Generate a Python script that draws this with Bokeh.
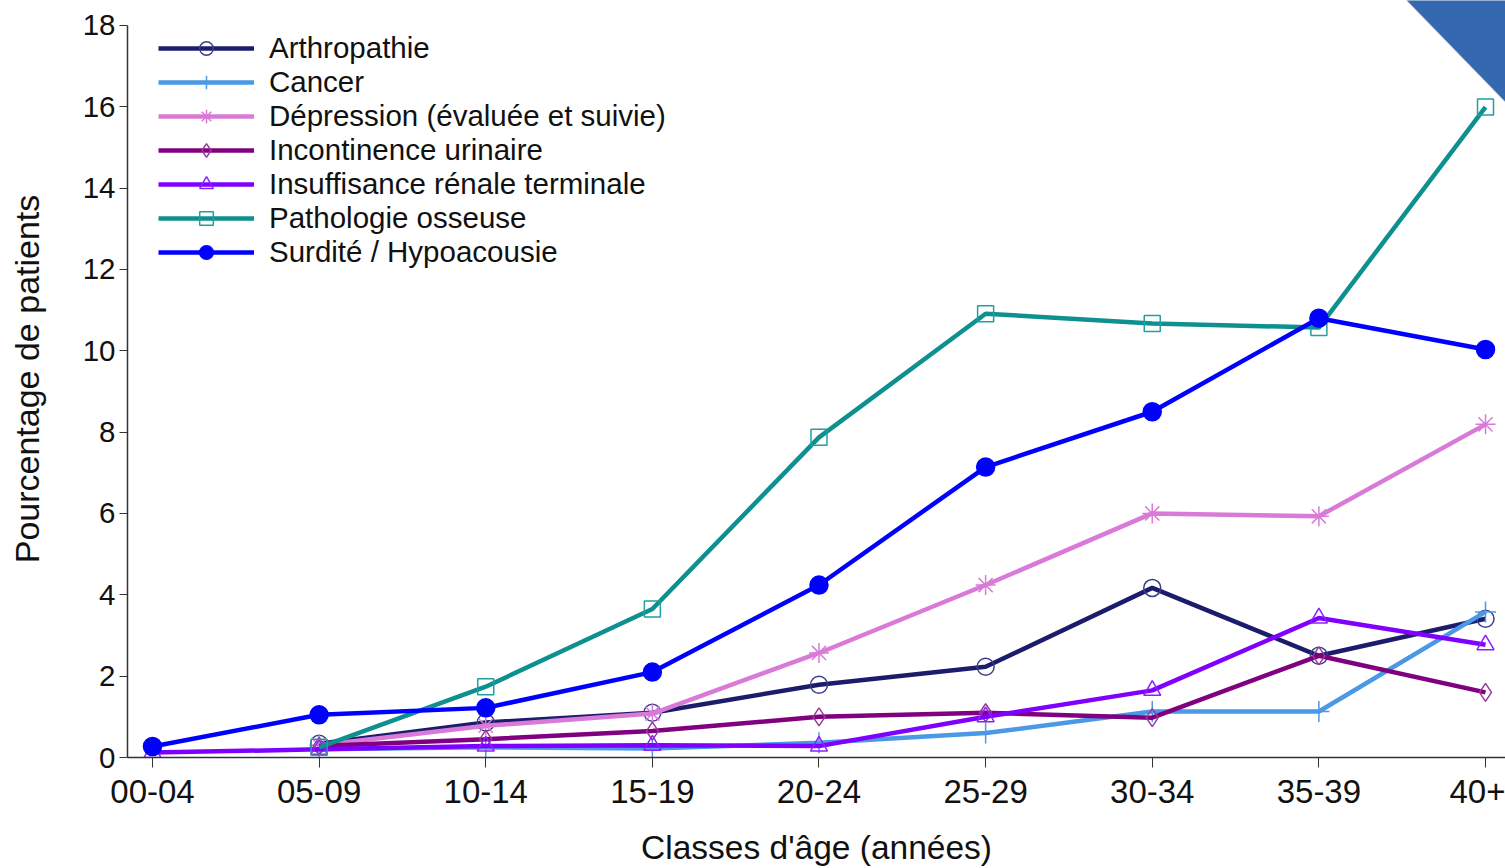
import math
from bokeh.plotting import figure
from bokeh.models import FixedTicker, Legend, LegendItem, Range1d
from bokeh.embed import file_html
from bokeh.resources import INLINE

nan = float("nan")

ages = ["00-04", "05-09", "10-14", "15-19", "20-24", "25-29", "30-34", "35-39", "40+"]
y_ticks = [0, 2, 4, 6, 8, 10, 12, 14, 16, 18]

arthropathie = [nan, 0.34, 0.86, 1.10, 1.79, 2.23, 4.17, 2.50, 3.41]
cancer = [nan, 0.20, 0.25, 0.22, 0.36, 0.60, 1.13, 1.13, 3.58]
depression = [nan, 0.30, 0.78, 1.08, 2.57, 4.24, 6.00, 5.93, 8.19]
incontinence = [nan, 0.28, 0.45, 0.65, 1.00, 1.10, 0.98, 2.50, 1.60]
insuffisance = [0.12, 0.20, 0.28, 0.30, 0.28, 1.00, 1.65, 3.43, 2.77]
pathologie = [nan, 0.25, 1.74, 3.65, 7.87, 10.91, 10.67, 10.57, 15.99]
surdite = [0.27, 1.05, 1.22, 2.10, 4.24, 7.14, 8.50, 10.80, 10.03]

FONT = "Liberation Sans"

x = list(range(len(ages)))

p = figure(width=1505, height=868,
           x_range=Range1d(-0.15, 8.12), y_range=Range1d(0, 18.61),
           output_backend="svg", toolbar_location=None, title=None,
           min_border_left=127, min_border_right=0, min_border_top=0,
           min_border_bottom=109)
p.background_fill_color = "white"
p.border_fill_color = "white"
p.outline_line_color = None
p.xgrid.visible = False
p.ygrid.visible = False

# decorative slide corner (not data)
deco_x = [7.508, 8.2, 8.2]
deco_y = [18.7, 18.7, 15.78]
p.patch([v + 0.015 for v in deco_x], [v - 0.09 for v in deco_y],
        fill_color="#000000", fill_alpha=0.16, line_color=None)
p.patch(deco_x, deco_y, fill_color="#3468b0", line_color=None)

series = [
    ("Arthropathie", arthropathie, "#1c1c6c", "#3c3c8c", "circle", 17, False),
    ("Cancer", cancer, "#4a98e6", "#4a98e6", "cross", 21, False),
    ("Dépression (évaluée et suivie)", depression, "#da7ad8", "#da7ad8", "asterisk", 20, False),
    ("Incontinence urinaire", incontinence, "#800080", "#9a3a9a", "diamond", 18, False),
    ("Insuffisance rénale terminale", insuffisance, "#7f00ff", "#8a20ff", "triangle", 17, False),
    ("Pathologie osseuse", pathologie, "#0f9090", "#20a0a0", "square", 16, False),
    ("Surdité / Hypoacousie", surdite, "#0000ff", "#0000ff", "circle", 18, True),
]

items = []
for name, vals, lc, mc, marker, size, filled in series:
    lr = p.line(x, vals, line_color=lc, line_width=4.5)
    xs = [xi for xi, v in zip(x, vals) if not math.isnan(v)]
    vs = [v for v in vals if not math.isnan(v)]
    sr = p.scatter(xs, vs, marker=marker, size=size, line_color=mc,
                   line_width=1.5,
                   fill_color=mc if filled else None)
    items.append(LegendItem(label=name, renderers=[lr, sr]))

legend = Legend(items=items, location="top_left", padding=0, margin=31,
                spacing=0, label_height=34, glyph_height=34, glyph_width=96,
                label_standoff=15, border_line_color=None,
                background_fill_alpha=0,
                label_text_font=FONT, label_text_font_size="29.5px",
                label_text_color="#111111")
p.add_layout(legend)

# axes
xa = p.xaxis[0]
xa.ticker = FixedTicker(ticks=x)
xa.major_label_overrides = {i: a for i, a in enumerate(ages)}
xa.minor_tick_line_color = None
xa.major_tick_in = 0
xa.major_tick_out = 10
xa.major_label_standoff = 12
xa.major_label_text_font = FONT
xa.major_label_text_font_size = "33px"
xa.major_label_text_color = "#111111"
xa.axis_line_color = "#333333"
xa.major_tick_line_color = "#333333"
xa.axis_line_width = 1.5
xa.axis_label = "Classes d'âge (années)"
xa.axis_label_text_font = FONT
xa.axis_label_text_font_size = "33.5px"
xa.axis_label_text_font_style = "normal"
xa.axis_label_text_color = "#111111"
xa.axis_label_standoff = 23

ya = p.yaxis[0]
ya.ticker = FixedTicker(ticks=y_ticks)
ya.bounds = (0, 18)
ya.minor_tick_line_color = None
ya.major_tick_in = 0
ya.major_tick_out = 8
ya.major_label_standoff = 4
ya.major_label_text_font = FONT
ya.major_label_text_font_size = "29.5px"
ya.major_label_text_color = "#111111"
ya.axis_line_color = "#333333"
ya.major_tick_line_color = "#333333"
ya.axis_line_width = 1.5
ya.axis_label = "Pourcentage de patients"
ya.axis_label_text_font = FONT
ya.axis_label_text_font_size = "34px"
ya.axis_label_text_font_style = "normal"
ya.axis_label_text_color = "#111111"
ya.axis_label_standoff = 34

open("out.html", "w").write(file_html(p, INLINE))
